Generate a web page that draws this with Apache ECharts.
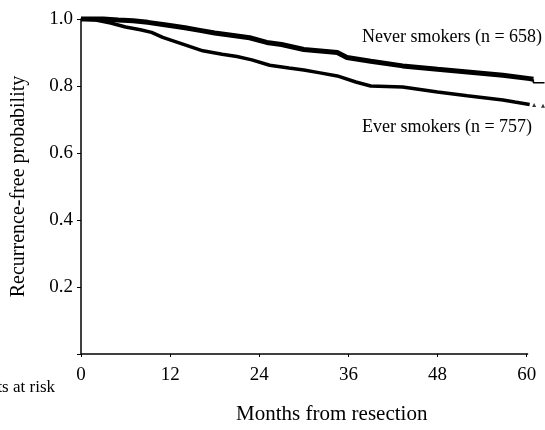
<!DOCTYPE html>
<html>
<head>
<meta charset="utf-8">
<script src="https://cdn.jsdelivr.net/npm/echarts@6/dist/echarts.min.js"></script>
<style>html,body{margin:0;padding:0;background:#fff}#c{width:545px;height:430px}</style>
</head>
<body>
<div id="c"></div>
<script>
const xTicks = [0, 12, 24, 36, 48, 60];
const yTicks = [0, 0.2, 0.4, 0.6, 0.8, 1.0];
const xAxisEnd = 60.2;
const xDataEnd = 62.4;
const neverMonths = [0, 3, 5, 7, 9, 11.5, 14, 16, 18, 20.5, 22.7, 25, 27, 30, 34.5, 35.8, 39, 43.3, 48, 52.4, 56.8, 60.4, 60.9];
const neverSurv   = [1.0, 1.0, 0.997, 0.995, 0.99, 0.982, 0.974, 0.966, 0.958, 0.951, 0.944, 0.93, 0.924, 0.909, 0.9, 0.885, 0.874, 0.86, 0.85, 0.841, 0.832, 0.822, 0.82];
const neverTailMonths = [60.9, 60.9, 62.4];
const neverTailSurv   = [0.82, 0.81, 0.81];
const everMonths = [0, 2, 4, 6, 8, 9.5, 11, 13.3, 16.4, 19, 21, 23, 25.4, 28, 30, 32, 34.5, 37, 39, 43.3, 48, 52, 56.8, 58.4, 60.4];
const everSurv   = [1.0, 0.997, 0.988, 0.976, 0.968, 0.96, 0.945, 0.928, 0.905, 0.895, 0.888, 0.878, 0.862, 0.854, 0.848, 0.84, 0.83, 0.812, 0.8, 0.797, 0.782, 0.771, 0.758, 0.752, 0.745];
const everCensorMonths = [61.0, 62.2];
const everCensorSurv = [0.743, 0.741];
const seriesNames = ['Never smokers (n = 658)', 'Ever smokers (n = 757)'];

const font = '"Liberation Serif", "Times New Roman", serif';
const chart = echarts.init(document.getElementById('c'), null, {renderer: 'canvas'});
const zip = (a, b) => a.map((v, i) => [v, b[i]]);
chart.setOption({
  animation: false,
  backgroundColor: '#fff',
  grid: {left: 81, right: 0.5, top: 19, bottom: 71, containLabel: false},
  xAxis: {
    type: 'value', min: 0, max: xDataEnd,
    name: 'Months from resection', nameLocation: 'middle', nameGap: 50,
    nameTextStyle: {fontFamily: font, fontSize: 21, color: '#000', padding: [0, 0, 0, 38]},
    axisLine: {show: false},
    axisTick: {show: true, length: 3, lineStyle: {color: '#000'}, customValues: xTicks},
    axisLabel: {fontFamily: font, fontSize: 19, color: '#000', margin: 12, customValues: xTicks},
    splitLine: {show: false}
  },
  yAxis: {
    type: 'value', min: 0, max: 1, interval: 0.2,
    name: 'Recurrence-free probability', nameLocation: 'middle', nameGap: 52,
    nameTextStyle: {fontFamily: font, fontSize: 20, color: '#000'},
    axisLine: {show: true, lineStyle: {color: '#000', width: 1.5}},
    axisTick: {show: true, length: 4, lineStyle: {color: '#000'}},
    axisLabel: {fontFamily: font, fontSize: 19, color: '#000', margin: 8,
      formatter: v => (v === 0 ? '' : v.toFixed(1))},
    splitLine: {show: false}
  },
  series: [
    {name: seriesNames[0], type: 'line', data: zip(neverMonths, neverSurv), symbol: 'none', clip: false,
     lineStyle: {color: '#000', width: 5},
     markLine: {silent: true, symbol: 'none', label: {show: false},
       lineStyle: {color: '#000', width: 1.5, type: 'solid'},
       data: [[{coord: [0, 0]}, {coord: [xAxisEnd, 0]}]]}},
    {name: 'neverTail', type: 'line', data: zip(neverTailMonths, neverTailSurv), symbol: 'none', clip: false,
     lineStyle: {color: '#000', width: 1.5}},
    {name: seriesNames[1], type: 'line', data: zip(everMonths, everSurv), symbol: 'none', clip: false,
     lineStyle: {color: '#000', width: 3.5}},
    {name: 'censor', type: 'scatter', data: zip(everCensorMonths, everCensorSurv), symbol: 'triangle', symbolSize: 4,
     clip: false, itemStyle: {color: '#000'}}
  ],
  graphic: [
    {type: 'text', left: 362, top: 28, style: {text: seriesNames[0], font: '18px ' + font, fill: '#000'}},
    {type: 'text', left: 362, top: 118, style: {text: seriesNames[1], font: '18px ' + font, fill: '#000'}},
    {type: 'text', right: 490, top: 379, style: {text: 'Patients at risk', font: '17px ' + font, fill: '#000'}}
  ]
});
</script>
</body>
</html>
